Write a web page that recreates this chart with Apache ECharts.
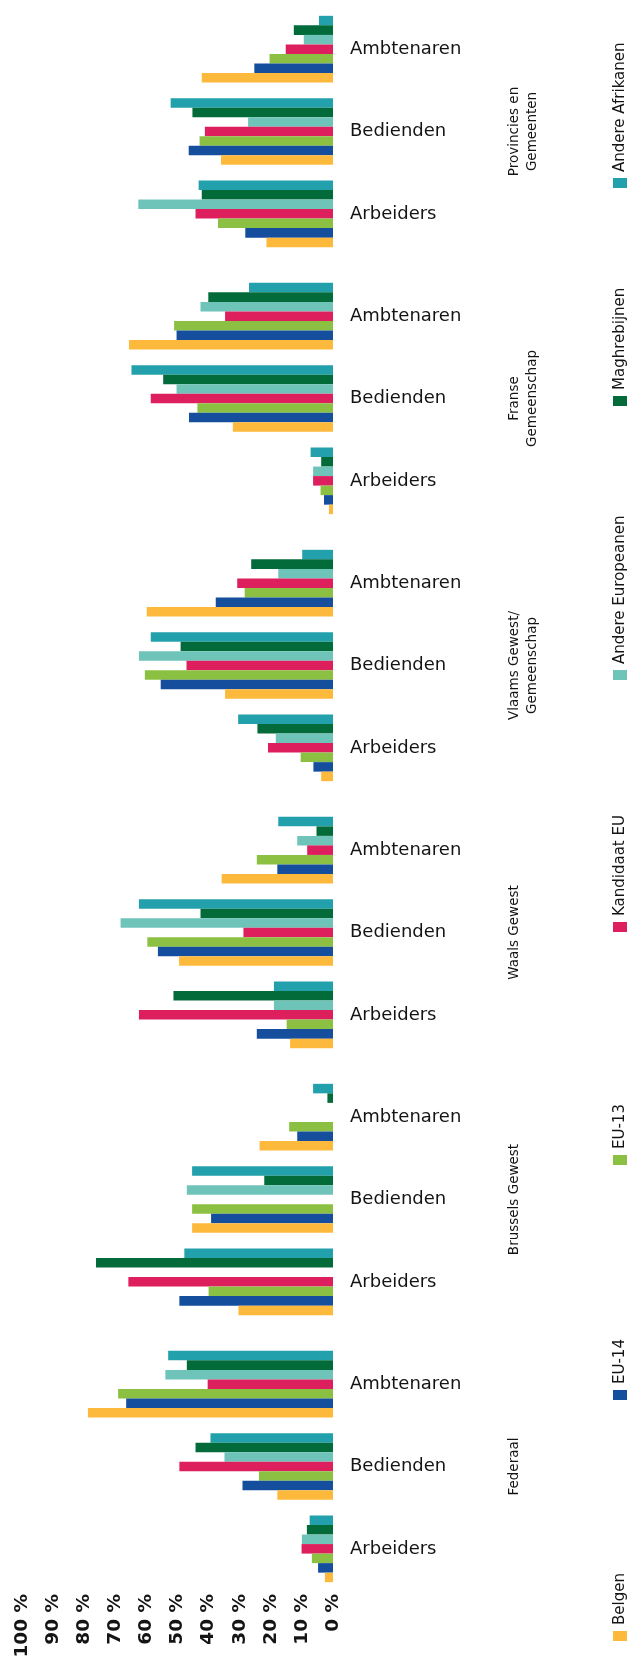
<!DOCTYPE html>
<html><head><meta charset="utf-8">
<script src="https://cdn.jsdelivr.net/npm/echarts@6/dist/echarts.min.js"></script>
<style>html,body{margin:0;padding:0;background:#fff}#c{width:633px;height:1666px}</style>
</head><body><div id="c"></div>
<script>
// Groups (bottom to top) and roles within each group (bottom to top)
const groups = ['Federaal', 'Brussels Gewest', 'Waals Gewest', 'Vlaams Gewest/\nGemeenschap', 'Franse\nGemeenschap', 'Provincies en\nGemeenten'];
const roles = ['Arbeiders', 'Bedienden', 'Ambtenaren'];
const seriesNames = ['Belgen', 'EU-14', 'EU-13', 'Kandidaat EU', 'Andere Europeanen', 'Maghrebijnen', 'Andere Afrikanen'];
const axisMin = 0, axisMax = 100, axisStep = 10;

// values in %, order: Federaal(Arb,Bed,Amb), Brussels, Waals, Vlaams, Franse, Provincies
const belgen          = [2.6, 17.9, 78.8, 30.4, 45.3, 23.6, 13.8, 49.5, 35.8, 3.8, 34.7, 59.9, 1.3, 32.2, 65.6, 21.4, 36.0, 42.2];
const eu14            = [4.8, 29.1, 66.5, 49.4, 39.2, 11.5, 24.5, 56.3, 17.9, 6.3, 55.4, 37.7, 2.9, 46.3, 50.3, 28.2, 46.4, 25.3];
const eu13            = [6.8, 23.8, 69.1, 40.0, 45.3, 14.1, 14.9, 59.7, 24.5, 10.4, 60.5, 28.4, 4.0, 43.6, 51.1, 37.0, 42.9, 20.4];
const kandidaatEU     = [10.1, 49.4, 40.3, 65.8, null, null, 62.4, 28.8, 8.3, 20.9, 47.1, 30.8, 6.4, 58.6, 34.7, 44.2, 41.2, 15.2];
const andereEuropeanen= [10.0, 34.9, 53.9, null, 47.0, null, 19.0, 68.3, 11.5, 18.4, 62.4, 17.6, 6.4, 50.3, 42.6, 62.6, 27.3, 9.4];
const maghrebijnen    = [8.4, 44.2, 47.0, 76.2, 22.1, 1.8, 51.3, 42.6, 5.3, 24.3, 49.0, 26.3, 3.8, 54.6, 40.1, 42.2, 45.2, 12.6];
const andereAfrikanen = [7.5, 39.4, 53.0, 47.8, 45.3, 6.4, 19.0, 62.4, 17.6, 30.5, 58.6, 9.9, 7.2, 64.8, 27.0, 43.2, 52.2, 4.5];

const allValues = [belgen, eu14, eu13, kandidaatEU, andereEuropeanen, maghrebijnen, andereAfrikanen];
const colors = ['#FDB93B', '#144E9C', '#8CC042', '#DD1F5E', '#6FC4BA', '#036B3A', '#22A0AB'];

// layout
const FONT = 'DejaVu Sans';
const TXT = '#141414';
const gridLeft = 22, gridRight = 300, gridH = 247, groupStep = 267, firstBottom = 1590;
const legendX = 620;
const legendBottoms = [1641, 1400, 1165, 932, 680, 406, 188];

const chart = echarts.init(document.getElementById('c'), null, {renderer: 'canvas'});

const grid = [], xAxis = [], yAxis = [], series = [];
groups.forEach((g, gi) => {
  grid.push({left: gridLeft, right: gridRight, top: firstBottom - gi * groupStep - gridH, height: gridH});
  xAxis.push({
    type: 'value', gridIndex: gi, inverse: true, min: axisMin, max: axisMax, interval: axisStep,
    axisLine: {show: false}, axisTick: {show: false}, splitLine: {show: false},
    axisLabel: {show: gi === 0, rotate: 90, margin: 4, formatter: '{value} %',
      fontFamily: FONT, fontSize: 18.5, fontWeight: 'bold', color: TXT}
  });
  yAxis.push({
    type: 'category', gridIndex: gi, data: roles, position: 'right',
    axisLine: {show: false, onZero: false}, axisTick: {show: false},
    axisLabel: {margin: 17, fontFamily: FONT, fontSize: 18, color: TXT},
    name: g, nameLocation: 'middle', nameRotate: 90, nameGap: 172,
    nameTextStyle: {fontFamily: FONT, fontSize: 13.5, lineHeight: 18, color: TXT, align: 'center'}
  });
  // series added in reverse so that 'Belgen' sits at the bottom of each group
  for (let si = allValues.length - 1; si >= 0; si--) {
    series.push({
      type: 'bar', name: seriesNames[si], xAxisIndex: gi, yAxisIndex: gi,
      data: allValues[si].slice(gi * 3, gi * 3 + 3),
      itemStyle: {color: colors[si]},
      barGap: '0%', barCategoryGap: '19%', silent: true
    });
  }
});

const graphic = seriesNames.map((n, i) => ({
  type: 'group', x: legendX, y: legendBottoms[i], rotation: Math.PI / 2,
  children: [
    {type: 'rect', shape: {x: 0, y: -7, width: 10, height: 14}, style: {fill: colors[i]}},
    {type: 'text', x: 16, y: 0, style: {text: n, fontFamily: FONT, fontSize: 15, fill: TXT, verticalAlign: 'middle', align: 'left'}}
  ]
}));

chart.setOption({
  animation: false,
  backgroundColor: '#fff',
  grid, xAxis, yAxis, series, graphic
});
</script></body></html>
